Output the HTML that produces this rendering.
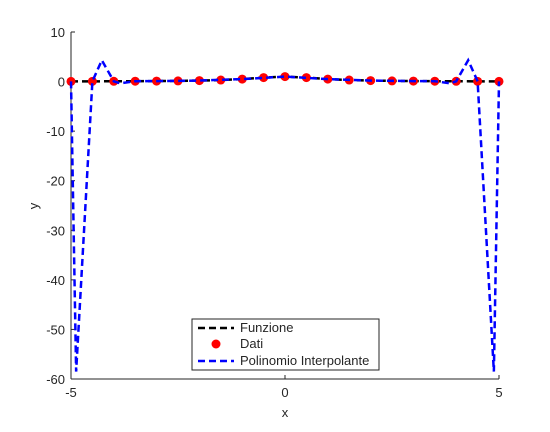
<!DOCTYPE html>
<html><head><meta charset="utf-8"><style>
body{margin:0;background:#fff;font-family:"Liberation Sans",sans-serif}
svg text{font-family:"Liberation Sans",sans-serif;font-size:13px;fill:#262626}
</style></head><body>
<svg width="550" height="427" viewBox="0 0 550 427">
<g id="axes"></g>
<g id="marks"></g>
<g id="legend">
<rect x="192" y="319" width="187" height="51" fill="#fff" stroke="#262626" stroke-width="1"/>
<line x1="198" y1="328" x2="234" y2="328" stroke="#000" stroke-width="2.5" stroke-dasharray="7,4"/>
<text x="240" y="332">Funzione</text>
<circle cx="216" cy="344" r="4.5" fill="#f00"/>
<text x="240" y="348">Dati</text>
<line x1="198" y1="361" x2="234" y2="361" stroke="#0000ff" stroke-width="2.5" stroke-dasharray="7,4"/>
<text x="240" y="365">Polinomio Interpolante</text>
</g>
</svg>
<script>
const dataX=[-5,-4.5,-4,-3.5,-3,-2.5,-2,-1.5,-1,-0.5,0,0.5,1,1.5,2,2.5,3,3.5,4,4.5,5];
const dataY=[0.038,0.047,0.059,0.075,0.1,0.138,0.2,0.308,0.5,0.8,1,0.8,0.5,0.308,0.2,0.138,0.1,0.075,0.059,0.047,0.038];
const polyX=[-5,-4.88,-4.5,-4.28,-4,-3.85,-3.5,-3,-2,-1,0,1,2,3,3.5,3.85,4,4.28,4.5,4.88,5];
const polyY=[0.038,-58.5,0.047,4.3,0.059,-0.35,0.075,0.1,0.2,0.5,1,0.5,0.2,0.1,0.075,-0.35,0.059,4.3,0.047,-58.5,0.038];
const xTicks=[-5,0,5];
const yTicks=[10,0,-10,-20,-30,-40,-50,-60];
const NS="http://www.w3.org/2000/svg";
const X0=71,X1=499,Y0=32,Y1=379;
const sx=v=>X0+(v+5)/10*(X1-X0);
const sy=v=>Y0+(10-v)/70*(Y1-Y0);
function mk(tag,attrs,parent){const e=document.createElementNS(NS,tag);for(const k in attrs)e.setAttribute(k,attrs[k]);parent.appendChild(e);return e;}
const ax=document.getElementById('axes'),mg=document.getElementById('marks');
let l=mk('line',{x1:X0,y1:Y1,x2:X1,y2:Y1,stroke:'#262626'},ax);


l=mk('line',{x1:X0,y1:Y0,x2:X0,y2:Y1,stroke:'#262626'},ax);


xTicks.forEach(t=>{const x=sx(t);
 const tk=mk('line',{x1:x,y1:Y1,x2:x,y2:Y1-4,stroke:'#262626'},ax);
 
 
 const tx=mk('text',{x:x,y:Y1+18,'text-anchor':'middle'},ax);tx.textContent=t;
 
 });
yTicks.forEach(t=>{const y=sy(t);
 const tk=mk('line',{x1:X0,y1:y,x2:X0+4,y2:y,stroke:'#262626'},ax);
 
 
 const tx=mk('text',{x:X0-6,y:y+5,'text-anchor':'end'},ax);tx.textContent=t;
 
 });
let t=mk('text',{x:(X0+X1)/2,y:417,'text-anchor':'middle'},ax);t.textContent='x';


t=mk('text',{x:38,y:206,'text-anchor':'middle',transform:'rotate(-90 38 206)'},ax);t.textContent='y';


// funzione
let p=mk('polyline',{points:dataX.map((x,i)=>sx(x)+','+sy(dataY[i])).join(' '),fill:'none',stroke:'#000','stroke-width':2.5,'stroke-dasharray':'7,4'},mg);


dataX.forEach((x,i)=>{const c=mk('circle',{cx:sx(x),cy:sy(dataY[i]),r:4.5,fill:'#f00'},mg);
 
 });
p=mk('polyline',{points:polyX.map((x,i)=>sx(x)+','+sy(polyY[i])).join(' '),fill:'none',stroke:'#0000ff','stroke-width':2.5,'stroke-dasharray':'7,4'},mg);


</script>
</body></html>
